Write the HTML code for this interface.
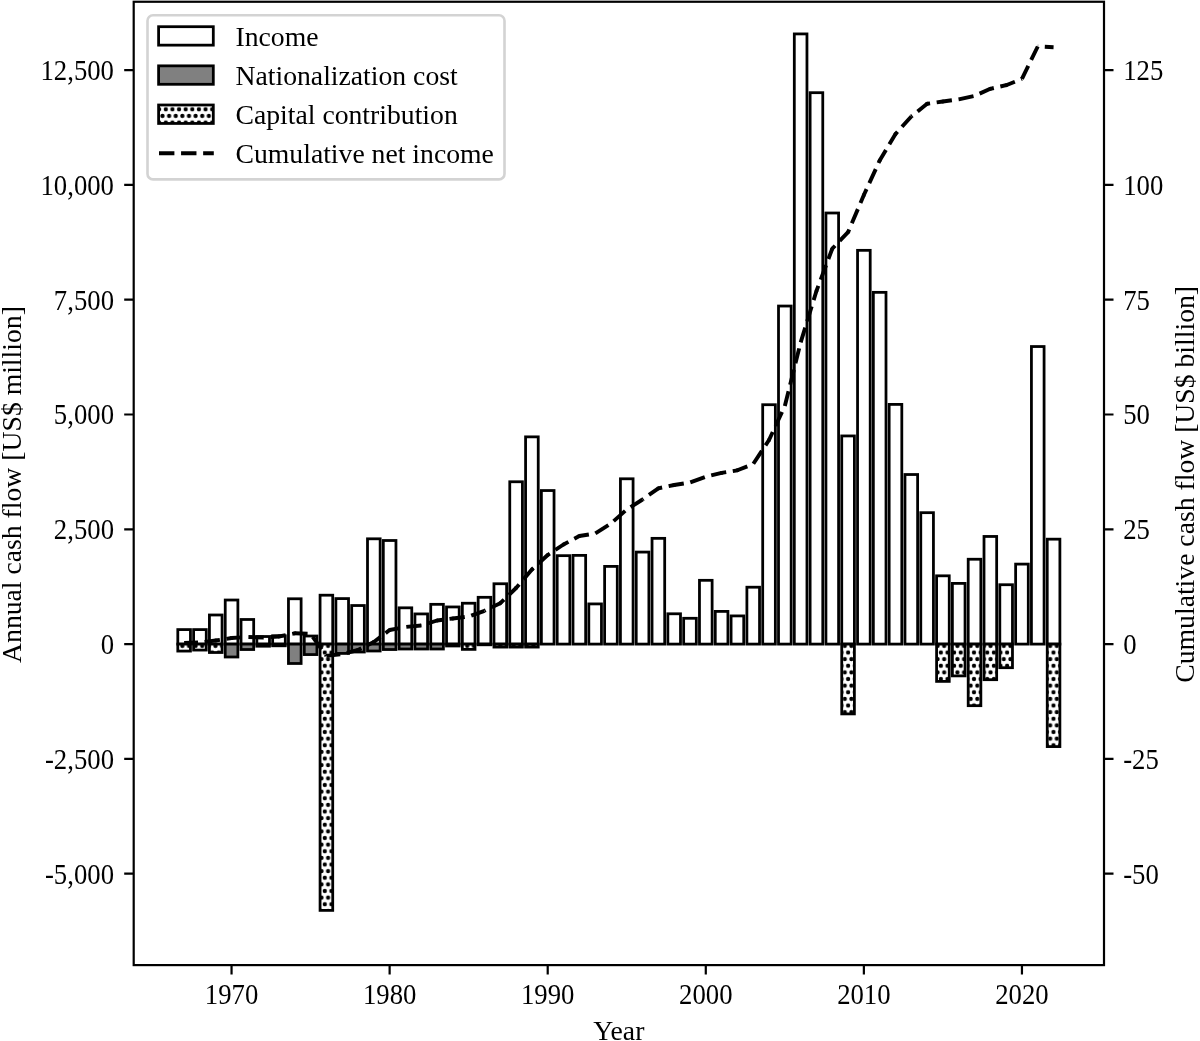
<!DOCTYPE html>
<html><head><meta charset="utf-8"><title>Annual and cumulative cash flow</title>
<style>html,body{margin:0;padding:0;background:#fff;}svg{display:block;}text{font-family:"Liberation Serif","Times New Roman",serif;fill:#000;}</style>
</head><body>
<svg width="1200" height="1041" viewBox="0 0 1200 1041">
<defs><pattern id="dots" patternUnits="userSpaceOnUse" x="0.19" y="3.31" width="6.6245" height="13.249"><rect width="6.6245" height="13.249" fill="#fff"/><circle cx="0" cy="0" r="2.15"/><circle cx="6.6245" cy="0" r="2.15"/><circle cx="3.31225" cy="6.6245" r="2.15"/><circle cx="0" cy="13.249" r="2.15"/><circle cx="6.6245" cy="13.249" r="2.15"/></pattern></defs>
<rect width="1200" height="1041" fill="#fff"/>
<g stroke="#000" stroke-width="2.78" stroke-linejoin="miter">
<rect x="177.8" y="629.59" width="12.65" height="14.51" fill="#fff"/>
<rect x="193.61" y="629.59" width="12.65" height="14.51" fill="#fff"/>
<rect x="209.42" y="614.99" width="12.65" height="29.11" fill="#fff"/>
<rect x="225.23" y="600.02" width="12.65" height="44.08" fill="#fff"/>
<rect x="241.03" y="619.49" width="12.65" height="24.61" fill="#fff"/>
<rect x="256.84" y="636.52" width="12.65" height="7.58" fill="#fff"/>
<rect x="272.65" y="635.79" width="12.65" height="8.31" fill="#fff"/>
<rect x="288.46" y="598.78" width="12.65" height="45.32" fill="#fff"/>
<rect x="304.27" y="636.02" width="12.65" height="8.08" fill="#fff"/>
<rect x="320.07" y="595.2" width="12.65" height="48.9" fill="#fff"/>
<rect x="335.88" y="598.59" width="12.65" height="45.51" fill="#fff"/>
<rect x="351.69" y="605.53" width="12.65" height="38.57" fill="#fff"/>
<rect x="367.5" y="538.81" width="12.65" height="105.29" fill="#fff"/>
<rect x="383.31" y="540.5" width="12.65" height="103.6" fill="#fff"/>
<rect x="399.11" y="607.82" width="12.65" height="36.28" fill="#fff"/>
<rect x="414.92" y="613.93" width="12.65" height="30.17" fill="#fff"/>
<rect x="430.73" y="604.33" width="12.65" height="39.77" fill="#fff"/>
<rect x="446.54" y="606.95" width="12.65" height="37.15" fill="#fff"/>
<rect x="462.35" y="603.23" width="12.65" height="40.87" fill="#fff"/>
<rect x="478.15" y="597.31" width="12.65" height="46.79" fill="#fff"/>
<rect x="493.96" y="583.76" width="12.65" height="60.34" fill="#fff"/>
<rect x="509.77" y="481.77" width="12.65" height="162.33" fill="#fff"/>
<rect x="525.58" y="436.86" width="12.65" height="207.24" fill="#fff"/>
<rect x="541.39" y="490.54" width="12.65" height="153.56" fill="#fff"/>
<rect x="557.19" y="555.66" width="12.65" height="88.44" fill="#fff"/>
<rect x="573" y="555.38" width="12.65" height="88.72" fill="#fff"/>
<rect x="588.81" y="603.92" width="12.65" height="40.18" fill="#fff"/>
<rect x="604.62" y="566.4" width="12.65" height="77.7" fill="#fff"/>
<rect x="620.43" y="478.79" width="12.65" height="165.31" fill="#fff"/>
<rect x="636.23" y="552.08" width="12.65" height="92.02" fill="#fff"/>
<rect x="652.04" y="538.35" width="12.65" height="105.75" fill="#fff"/>
<rect x="667.85" y="613.79" width="12.65" height="30.31" fill="#fff"/>
<rect x="683.66" y="618.29" width="12.65" height="25.81" fill="#fff"/>
<rect x="699.47" y="580.32" width="12.65" height="63.78" fill="#fff"/>
<rect x="715.27" y="611.4" width="12.65" height="32.7" fill="#fff"/>
<rect x="731.08" y="615.91" width="12.65" height="28.19" fill="#fff"/>
<rect x="746.89" y="587.21" width="12.65" height="56.89" fill="#fff"/>
<rect x="762.7" y="404.72" width="12.65" height="239.38" fill="#fff"/>
<rect x="778.51" y="306.04" width="12.65" height="338.06" fill="#fff"/>
<rect x="794.31" y="33.92" width="12.65" height="610.18" fill="#fff"/>
<rect x="810.12" y="92.69" width="12.65" height="551.41" fill="#fff"/>
<rect x="825.93" y="213" width="12.65" height="431.1" fill="#fff"/>
<rect x="841.74" y="435.94" width="12.65" height="208.16" fill="#fff"/>
<rect x="857.55" y="250.34" width="12.65" height="393.76" fill="#fff"/>
<rect x="873.35" y="292.35" width="12.65" height="351.75" fill="#fff"/>
<rect x="889.16" y="404.4" width="12.65" height="239.7" fill="#fff"/>
<rect x="904.97" y="474.52" width="12.65" height="169.58" fill="#fff"/>
<rect x="920.78" y="512.68" width="12.65" height="131.42" fill="#fff"/>
<rect x="936.59" y="575.82" width="12.65" height="68.28" fill="#fff"/>
<rect x="952.39" y="583.39" width="12.65" height="60.71" fill="#fff"/>
<rect x="968.2" y="559.24" width="12.65" height="84.86" fill="#fff"/>
<rect x="984.01" y="536.46" width="12.65" height="107.64" fill="#fff"/>
<rect x="999.82" y="584.73" width="12.65" height="59.37" fill="#fff"/>
<rect x="1015.63" y="564.11" width="12.65" height="79.99" fill="#fff"/>
<rect x="1031.43" y="346.54" width="12.65" height="297.56" fill="#fff"/>
<rect x="1047.24" y="539.17" width="12.65" height="104.93" fill="#fff"/>
<rect x="225.23" y="644.1" width="12.65" height="12.9" fill="#808080"/>
<rect x="241.03" y="644.1" width="12.65" height="5.42" fill="#808080"/>
<rect x="256.84" y="644.1" width="12.65" height="2.11" fill="#808080"/>
<rect x="272.65" y="644.1" width="12.65" height="1.7" fill="#808080"/>
<rect x="288.46" y="644.1" width="12.65" height="19.38" fill="#808080"/>
<rect x="304.27" y="644.1" width="12.65" height="10.47" fill="#808080"/>
<rect x="335.88" y="644.1" width="12.65" height="9.32" fill="#808080"/>
<rect x="351.69" y="644.1" width="12.65" height="7.9" fill="#808080"/>
<rect x="367.5" y="644.1" width="12.65" height="6.89" fill="#808080"/>
<rect x="383.31" y="644.1" width="12.65" height="5.42" fill="#808080"/>
<rect x="399.11" y="644.1" width="12.65" height="4.91" fill="#808080"/>
<rect x="414.92" y="644.1" width="12.65" height="4.91" fill="#808080"/>
<rect x="430.73" y="644.1" width="12.65" height="4.91" fill="#808080"/>
<rect x="446.54" y="644.1" width="12.65" height="1.88" fill="#808080"/>
<rect x="478.15" y="644.1" width="12.65" height="0.69" fill="#808080"/>
<rect x="177.8" y="644.1" width="12.65" height="6.98" fill="url(#dots)"/>
<rect x="193.61" y="644.1" width="12.65" height="5.97" fill="url(#dots)"/>
<rect x="209.42" y="644.1" width="12.65" height="8.4" fill="url(#dots)"/>
<rect x="320.07" y="644.1" width="12.65" height="266.29" fill="url(#dots)"/>
<rect x="462.35" y="644.1" width="12.65" height="5.28" fill="url(#dots)"/>
<rect x="493.96" y="644.1" width="12.65" height="2.98" fill="url(#dots)"/>
<rect x="509.77" y="644.1" width="12.65" height="2.98" fill="url(#dots)"/>
<rect x="525.58" y="644.1" width="12.65" height="2.98" fill="url(#dots)"/>
<rect x="841.74" y="644.1" width="12.65" height="69.8" fill="url(#dots)"/>
<rect x="936.59" y="644.1" width="12.65" height="37.29" fill="url(#dots)"/>
<rect x="952.39" y="644.1" width="12.65" height="31.78" fill="url(#dots)"/>
<rect x="968.2" y="644.1" width="12.65" height="61.58" fill="url(#dots)"/>
<rect x="984.01" y="644.1" width="12.65" height="35.59" fill="url(#dots)"/>
<rect x="999.82" y="644.1" width="12.65" height="23.6" fill="url(#dots)"/>
<rect x="1047.24" y="644.1" width="12.65" height="102.49" fill="url(#dots)"/>
</g>
<g fill="none" stroke="#000" stroke-width="3.9" stroke-dasharray="15.4 6.67">
<path d="M184.13,643L199.93,642.5" stroke-dashoffset="1.5"/>
<path d="M199.93,642.5L215.74,640.5" stroke-dashoffset="17.33"/>
<path d="M215.74,640.5L231.55,638" stroke-dashoffset="11.2"/>
<path d="M231.55,638L247.36,637" stroke-dashoffset="5.15"/>
<path d="M247.36,637L263.17,637.5" stroke-dashoffset="21"/>
<path d="M263.17,637.5L278.97,636.5" stroke-dashoffset="14.75"/>
<path d="M278.97,636.5L294.78,633.3" stroke-dashoffset="8.53"/>
<path d="M294.78,633.3L310.59,633.8" stroke-dashoffset="2.6"/>
<path d="M310.59,633.8L326.4,655.9" stroke-dashoffset="18.43"/>
<path d="M326.4,655.9L342.21,654" stroke-dashoffset="1.47"/>
<path d="M342.21,654L358.01,650" stroke-dashoffset="17.4"/>
<path d="M358.01,650L373.82,642" stroke-dashoffset="11.65"/>
<path d="M373.82,642L389.63,630" stroke-dashoffset="7.31"/>
<path d="M389.63,630L405.44,627" stroke-dashoffset="5.09"/>
<path d="M405.44,627L421.25,625.5" stroke-dashoffset="21.2"/>
<path d="M421.25,625.5L437.05,620.5" stroke-dashoffset="15.01"/>
<path d="M437.05,620.5L452.86,618.5" stroke-dashoffset="9.53"/>
<path d="M452.86,618.5L468.67,616.5" stroke-dashoffset="3.41"/>
<path d="M468.67,616.5L484.48,610.8" stroke-dashoffset="19.35"/>
<path d="M484.48,610.8L500.29,603.2" stroke-dashoffset="14.1"/>
<path d="M500.29,603.2L516.09,588" stroke-dashoffset="10.22"/>
<path d="M516.09,588L531.9,569.5" stroke-dashoffset="10.73"/>
<path d="M531.9,569.5L547.71,555" stroke-dashoffset="13.24"/>
<path d="M547.71,555L563.52,544.5" stroke-dashoffset="12.87"/>
<path d="M563.52,544.5L579.33,536" stroke-dashoffset="9.82"/>
<path d="M579.33,536L595.13,533.5" stroke-dashoffset="5.74"/>
<path d="M595.13,533.5L610.94,523.5" stroke-dashoffset="21.78"/>
<path d="M610.94,523.5L626.75,509.5" stroke-dashoffset="18.46"/>
<path d="M626.75,509.5L642.56,499.5" stroke-dashoffset="17.55"/>
<path d="M642.56,499.5L658.37,488.3" stroke-dashoffset="14.22"/>
<path d="M658.37,488.3L674.17,485" stroke-dashoffset="11.56"/>
<path d="M674.17,485L689.98,482.5" stroke-dashoffset="5.68"/>
<path d="M689.98,482.5L705.79,476.8" stroke-dashoffset="21.72"/>
<path d="M705.79,476.8L721.6,472.9" stroke-dashoffset="16.49"/>
<path d="M721.6,472.9L737.41,470.3" stroke-dashoffset="10.74"/>
<path d="M737.41,470.3L753.21,464" stroke-dashoffset="4.73"/>
<path d="M753.21,464L769.02,440" stroke-dashoffset="21.78"/>
<path d="M769.02,440L784.83,406" stroke-dashoffset="6.58"/>
<path d="M784.83,406L800.64,342.5" stroke-dashoffset="0.14"/>
<path d="M800.64,342.5L816.45,291" stroke-dashoffset="21.88"/>
<path d="M816.45,291L832.25,248.7" stroke-dashoffset="9.99"/>
<path d="M832.25,248.7L848.06,232.2" stroke-dashoffset="11.31"/>
<path d="M848.06,232.2L863.87,195" stroke-dashoffset="12.39"/>
<path d="M863.87,195L879.68,160.5" stroke-dashoffset="8.97"/>
<path d="M879.68,160.5L895.49,134" stroke-dashoffset="3.18"/>
<path d="M895.49,134L911.29,116.5" stroke-dashoffset="12.37"/>
<path d="M911.29,116.5L927.1,103.8" stroke-dashoffset="14.03"/>
<path d="M927.1,103.8L942.91,101.5" stroke-dashoffset="12.39"/>
<path d="M942.91,101.5L958.72,99.3" stroke-dashoffset="6.34"/>
<path d="M958.72,99.3L974.53,95.9" stroke-dashoffset="0.28"/>
<path d="M974.53,95.9L990.33,88.8" stroke-dashoffset="16.5"/>
<path d="M990.33,88.8L1006.14,85.2" stroke-dashoffset="11.81"/>
<path d="M1006.14,85.2L1021.95,78.9" stroke-dashoffset="6"/>
<path d="M1021.95,78.9L1037.76,46.5" stroke-dashoffset="1"/>
<path d="M1037.76,46.5L1053.57,47.2" stroke-dashoffset="15.03"/>
</g>
<g fill="#000"><circle cx="215.74" cy="640.5" r="1.95"/><circle cx="231.55" cy="638" r="1.95"/><circle cx="278.97" cy="636.5" r="1.95"/><circle cx="294.78" cy="633.3" r="1.95"/><circle cx="358.01" cy="650" r="1.95"/><circle cx="373.82" cy="642" r="1.95"/><circle cx="389.63" cy="630" r="1.95"/><circle cx="437.05" cy="620.5" r="1.95"/><circle cx="452.86" cy="618.5" r="1.95"/><circle cx="500.29" cy="603.2" r="1.95"/><circle cx="516.09" cy="588" r="1.95"/><circle cx="531.9" cy="569.5" r="1.95"/><circle cx="547.71" cy="555" r="1.95"/><circle cx="563.52" cy="544.5" r="1.95"/><circle cx="579.33" cy="536" r="1.95"/><circle cx="658.37" cy="488.3" r="1.95"/><circle cx="674.17" cy="485" r="1.95"/><circle cx="721.6" cy="472.9" r="1.95"/><circle cx="737.41" cy="470.3" r="1.95"/><circle cx="769.02" cy="440" r="1.95"/><circle cx="816.45" cy="291" r="1.95"/><circle cx="832.25" cy="248.7" r="1.95"/><circle cx="848.06" cy="232.2" r="1.95"/><circle cx="863.87" cy="195" r="1.95"/><circle cx="879.68" cy="160.5" r="1.95"/><circle cx="895.49" cy="134" r="1.95"/><circle cx="927.1" cy="103.8" r="1.95"/><circle cx="942.91" cy="101.5" r="1.95"/><circle cx="990.33" cy="88.8" r="1.95"/><circle cx="1006.14" cy="85.2" r="1.95"/></g>
<rect x="133.7" y="1.75" width="970.3" height="963.35" fill="none" stroke="#000" stroke-width="2.2"/>
<path d="M124.19999999999999,70.1H133.7M1104.0,70.1H1113.5M124.19999999999999,184.9H133.7M1104.0,184.9H1113.5M124.19999999999999,299.7H133.7M1104.0,299.7H1113.5M124.19999999999999,414.5H133.7M1104.0,414.5H1113.5M124.19999999999999,529.3H133.7M1104.0,529.3H1113.5M124.19999999999999,644.1H133.7M1104.0,644.1H1113.5M124.19999999999999,758.9H133.7M1104.0,758.9H1113.5M124.19999999999999,873.7H133.7M1104.0,873.7H1113.5M231.55,965.1V974.6M389.63,965.1V974.6M547.71,965.1V974.6M705.79,965.1V974.6M863.87,965.1V974.6M1021.95,965.1V974.6" stroke="#000" stroke-width="2.2" fill="none"/>
<g font-size="27.7">
<text transform="translate(114 80) scale(0.965 1.045)" text-anchor="end">12,500</text>
<text transform="translate(1123.2 80) scale(0.965 1.045)">125</text>
<text transform="translate(114 194.8) scale(0.965 1.045)" text-anchor="end">10,000</text>
<text transform="translate(1123.2 194.8) scale(0.965 1.045)">100</text>
<text transform="translate(114 309.6) scale(0.965 1.045)" text-anchor="end">7,500</text>
<text transform="translate(1123.2 309.6) scale(0.965 1.045)">75</text>
<text transform="translate(114 424.4) scale(0.965 1.045)" text-anchor="end">5,000</text>
<text transform="translate(1123.2 424.4) scale(0.965 1.045)">50</text>
<text transform="translate(114 539.2) scale(0.965 1.045)" text-anchor="end">2,500</text>
<text transform="translate(1123.2 539.2) scale(0.965 1.045)">25</text>
<text transform="translate(114 654) scale(0.965 1.045)" text-anchor="end">0</text>
<text transform="translate(1123.2 654) scale(0.965 1.045)">0</text>
<text transform="translate(114 768.8) scale(0.965 1.045)" text-anchor="end">-2,500</text>
<text transform="translate(1123.2 768.8) scale(0.965 1.045)">-25</text>
<text transform="translate(114 883.6) scale(0.965 1.045)" text-anchor="end">-5,000</text>
<text transform="translate(1123.2 883.6) scale(0.965 1.045)">-50</text>
<text transform="translate(231.55 1003.7) scale(0.965 1.045)" text-anchor="middle">1970</text>
<text transform="translate(389.63 1003.7) scale(0.965 1.045)" text-anchor="middle">1980</text>
<text transform="translate(547.71 1003.7) scale(0.965 1.045)" text-anchor="middle">1990</text>
<text transform="translate(705.79 1003.7) scale(0.965 1.045)" text-anchor="middle">2000</text>
<text transform="translate(863.87 1003.7) scale(0.965 1.045)" text-anchor="middle">2010</text>
<text transform="translate(1021.95 1003.7) scale(0.965 1.045)" text-anchor="middle">2020</text>
<text x="618.85" y="1039.6" text-anchor="middle">Year</text>
<text transform="translate(20.9 484.55) rotate(-90)" text-anchor="middle">Annual cash flow [US$ million]</text>
<text transform="translate(1194.3 484.35) rotate(-90)" text-anchor="middle">Cumulative cash flow [US$ billion]</text>
</g>
<rect x="147.5" y="15.2" width="357" height="164.2" rx="5.5" ry="5.5" fill="#fff" fill-opacity="0.8" stroke="#d3d3d3" stroke-width="2.6"/>
<g stroke="#000" stroke-width="2.78">
<rect x="158.6" y="26.7" width="54.7" height="18.45" fill="#fff"/>
<rect x="158.6" y="65.85" width="54.7" height="18.45" fill="#808080"/>
<rect x="158.6" y="105" width="54.7" height="18.45" fill="url(#dots)"/>
</g>
<path d="M159,153.2H213.8" stroke="#000" stroke-width="3.9" stroke-dasharray="15.4 6.67"/>
<g font-size="27.7">
<text x="235.5" y="45.8">Income</text>
<text x="235.5" y="85">Nationalization cost</text>
<text x="235.5" y="124.2">Capital contribution</text>
<text x="235.5" y="163.4">Cumulative net income</text>
</g>
</svg>
</body></html>
